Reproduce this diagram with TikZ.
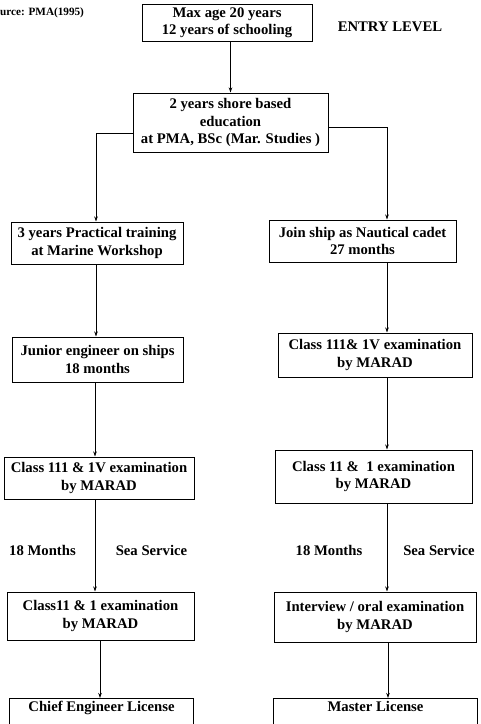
\documentclass[tikz,border=0pt]{standalone}
\usepackage{fontspec}
\setmainfont{Liberation Serif}
\usetikzlibrary{arrows.meta}
\begin{document}
\begin{tikzpicture}[x=1pt,y=-1pt,
  box/.style={draw,line width=1pt,align=center,inner sep=1pt,font=\fontsize{14.7}{17.3}\selectfont\bfseries},
  lbl/.style={align=center,inner sep=0pt,font=\fontsize{14.7}{17.3}\selectfont\bfseries},
  arr/.style={line width=0.8pt,-{Stealth[length=5pt,width=3.5pt]}}]
\useasboundingbox (0,0) rectangle (481,724);
\fill[white] (0,0) rectangle (481,724);
\node[lbl,anchor=west,font=\fontsize{11.2}{13}\selectfont\bfseries] (src) at (0,13) {urce: PMA(1995)};
\node[lbl] (entry) at (390,27) {ENTRY LEVEL};
\node[box,minimum width=170,minimum height=37] (b1) at (227,22.5) {Max age 20 years\\12 years of schooling};
\node[box,minimum width=195,minimum height=59] (b2) at (230.5,122.5) {2 years shore based\\education\\at PMA, BSc (Mar. Studies )};
\node[box,minimum width=172,minimum height=42] (b3) at (97,243) {3 years Practical training\\at Marine Workshop};
\node[box,minimum width=187,minimum height=42] (b4) at (362.5,241) {Join ship as Nautical cadet\\27 months};
\node[box,minimum width=171,minimum height=45] (b5) at (97.5,359.5) {Junior engineer on ships\\18 months};
\node[box,minimum width=194,minimum height=44] (b6) at (375,355) {Class 111\& 1V examination\\by MARAD};
\node[box,minimum width=190,minimum height=42] (b7) at (99,478) {Class 111 \& 1V examination\\by MARAD};
\node[box,minimum width=197,minimum height=53] (b8) at (373.5,476.5) {Class 11 \&\ \ 1 examination\\by MARAD};
\node[box,minimum width=187,minimum height=48] (b9) at (100.5,616) {Class11 \& 1 examination\\by MARAD};
\node[box,minimum width=202,minimum height=50] (b10) at (375,617) {Interview / oral examination\\by MARAD};
\node[lbl,minimum width=183,inner ysep=3pt,anchor=north] (b11) at (101.5,698) {Chief Engineer License};
\node[lbl,minimum width=204,inner ysep=3pt,anchor=north] (b12) at (375.5,698) {Master License};
\draw[line width=1pt] ([yshift=-40pt]b11.south west) -- (b11.north west) -- (b11.north east) -- ([yshift=-40pt]b11.south east);
\draw[line width=1pt] ([yshift=-40pt]b12.south west) -- (b12.north west) -- (b12.north east) -- ([yshift=-40pt]b12.south east);
\node[lbl] (m1) at (42.5,550) {18 Months};
\node[lbl] (s1) at (151.5,550) {Sea Service};
\node[lbl] (m2) at (329,550) {18 Months};
\node[lbl] (s2) at (439,550) {Sea Service};
\coordinate (L) at (96,133);
\coordinate (R) at (387,127);
\coordinate (L2) at (95,0);
\coordinate (L3) at (100,0);
\coordinate (R3) at (388,0);
\draw[arr] (b1.south -| b2.north) -- (b2.north);
\draw[arr] (b2.west |- L) -| (b3.north -| L);
\draw[arr] (b2.east |- R) -| (b4.north -| R);
\draw[arr] (b3.south -| L) -- (b5.north -| L);
\draw[arr] (b4.south -| R) -- (b6.north -| R);
\draw[arr] (b5.south -| L2) -- (b7.north -| L2);
\draw[arr] (b6.south -| R) -- (b8.north -| R);
\draw[arr] (b7.south -| L2) -- (b9.north -| L2);
\draw[arr] (b8.south -| R) -- (b10.north -| R);
\draw[arr] (b9.south -| L3) -- (b11.north -| L3);
\draw[arr] (b10.south -| R3) -- (b12.north -| R3);
\end{tikzpicture}
\end{document}
